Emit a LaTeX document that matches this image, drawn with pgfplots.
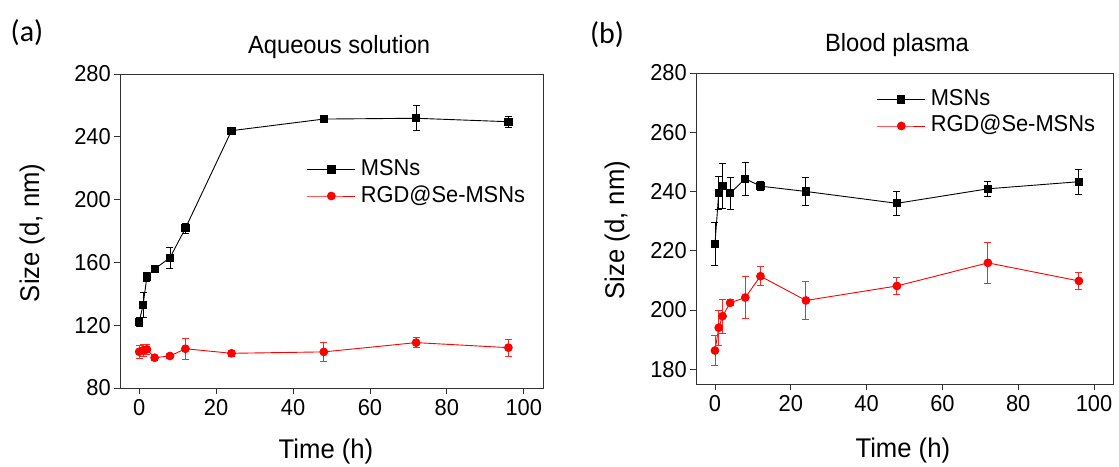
\documentclass[border=0pt]{standalone}
\usepackage{fontspec}
\setmainfont{Liberation Sans}[FakeStretch=0.95]
\newfontfamily\calibri{Carlito}
\usepackage{pgfplots}
\usepackage{pgfplotstable}
\pgfplotsset{compat=1.18}

% aqueous solution
\pgfplotstableread{
t y e
0 122.2 3
1 132.9 8
2 150.9 3
4 155.8 1.5
8 163.0 6.7
12 181.7 3
24 243.9 2
48 251.3 1.5
72 251.8 8
96 249.6 3.6
}\aqmsn
\pgfplotstableread{
t y e
0 103.1 4
1 104.0 4
2 104.6 3
4 99.3 1.5
8 100.4 1.5
12 105.0 6.5
24 102.1 2
48 103.0 6.2
72 108.9 3
96 105.7 5.5
}\aqrgd
% blood plasma
\pgfplotstableread{
t y e
0 222.3 7.3
1 239.5 5.7
2 241.8 7.7
4 239.4 5.5
8 244.3 5.5
12 241.8 1.5
24 240.0 4.6
48 236.0 4
72 240.9 2.6
96 243.3 4.3
}\plmsn
\pgfplotstableread{
t y e
0 186.3 5.1
1 194.0 6
2 197.9 5.7
4 202.4 1
8 204.2 7
12 211.4 3.2
24 203.2 6.5
48 208.1 3
72 215.9 7
96 209.8 3
}\plrgd

\pgfplotsset{
  sizeplot/.style={
    scale only axis,
    anchor=south west,
    xmin=-5, xmax=105,
    xtick={0,20,...,100},
    tick align=outside,
    xtick pos=bottom, ytick pos=left,
    major tick length=6pt,
    minor tick num=0,
    axis line style={black!80, line width=0.9pt},
    tick style={black!80, line width=0.9pt},
    /pgf/number format/assume math mode=true,
    ticklabel style={font=\fontsize{23}{27}\selectfont, inner sep=3pt},
    xticklabel style={yshift=-2pt},
    label style={font=\fontsize{27}{31}\selectfont},
    xlabel={Time (h)},
    ylabel={Size (d, nm)},
    ylabel style={anchor=center},
    xlabel style={anchor=base},
    title style={font=\fontsize{25}{29}\selectfont, anchor=base},
    legend style={draw=none, fill=none, inner sep=0pt, anchor=north west,
      font=\fontsize{23}{27}\selectfont, row sep=4.5pt, column sep=5pt,
      nodes={inner sep=0pt, text height=17pt, text depth=5pt}},
    legend cell align=left,
    legend image code/.code={
      \draw[mark repeat=2, mark phase=2, ##1] plot coordinates {(0pt,0pt) (24pt,0pt) (48pt,0pt)};},
    every axis plot/.append style={line width=0.9pt},
  },
  msn/.style={black, mark=square*, mark size=3.6pt, mark options={solid},
    error bars/.cd, y dir=both, y explicit, error mark=-,
    error bar style={line width=0.9pt},
    error mark options={rotate=90, black, mark size=3.5pt, line width=0.9pt}},
  rgd/.style={red, mark=*, mark size=3.9pt, mark options={solid},
    error bars/.cd, y dir=both, y explicit, error mark=-,
    error bar style={line width=0.9pt, red!85},
    error mark options={rotate=90, red!85, mark size=3.5pt, line width=0.9pt}},
}

\begin{document}
\begin{tikzpicture}[x=1pt, y=1pt]
\path[use as bounding box] (0,0) rectangle (1119,466);

\node[font=\calibri\fontsize{30}{34}\selectfont] at (27,433) {(a)};
\node[font=\calibri\fontsize{30}{34}\selectfont] at (607,431.5) {(b)};

\begin{axis}[sizeplot,
  at={(120pt,78pt)}, width=423pt, height=314pt,
  ymin=80, ymax=280, ytick={80,120,...,280},
  title={Aqueous solution},
  title style={at={(axis description cs:0.518,1.045)}},
  xlabel style={at={(axis description cs:0.487,-0.223)}},
  ylabel style={at={(axis description cs:-0.208,0.494)}},
  legend style={at={(axis description cs:0.4414,0.7315)}},
]
\addplot+[msn] table[x=t, y=y, y error=e] {\aqmsn};
\addplot+[rgd] table[x=t, y=y, y error=e] {\aqrgd};
\legend{MSNs, RGD@Se-MSNs}
\end{axis}

\begin{axis}[sizeplot,
  at={(696pt,82pt)}, width=417pt, height=311pt,
  ymin=175, ymax=280, ytick={180,200,...,280},
  title={Blood plasma},
  title style={at={(axis description cs:0.482,1.051)}},
  xlabel style={at={(axis description cs:0.496,-0.236)}},
  ylabel style={at={(axis description cs:-0.189,0.495)}},
  legend style={at={(axis description cs:0.4333,0.9508)}},
]
\addplot+[msn] table[x=t, y=y, y error=e] {\plmsn};
\addplot+[rgd] table[x=t, y=y, y error=e] {\plrgd};
\legend{MSNs, RGD@Se-MSNs}
\end{axis}
\end{tikzpicture}
\end{document}
